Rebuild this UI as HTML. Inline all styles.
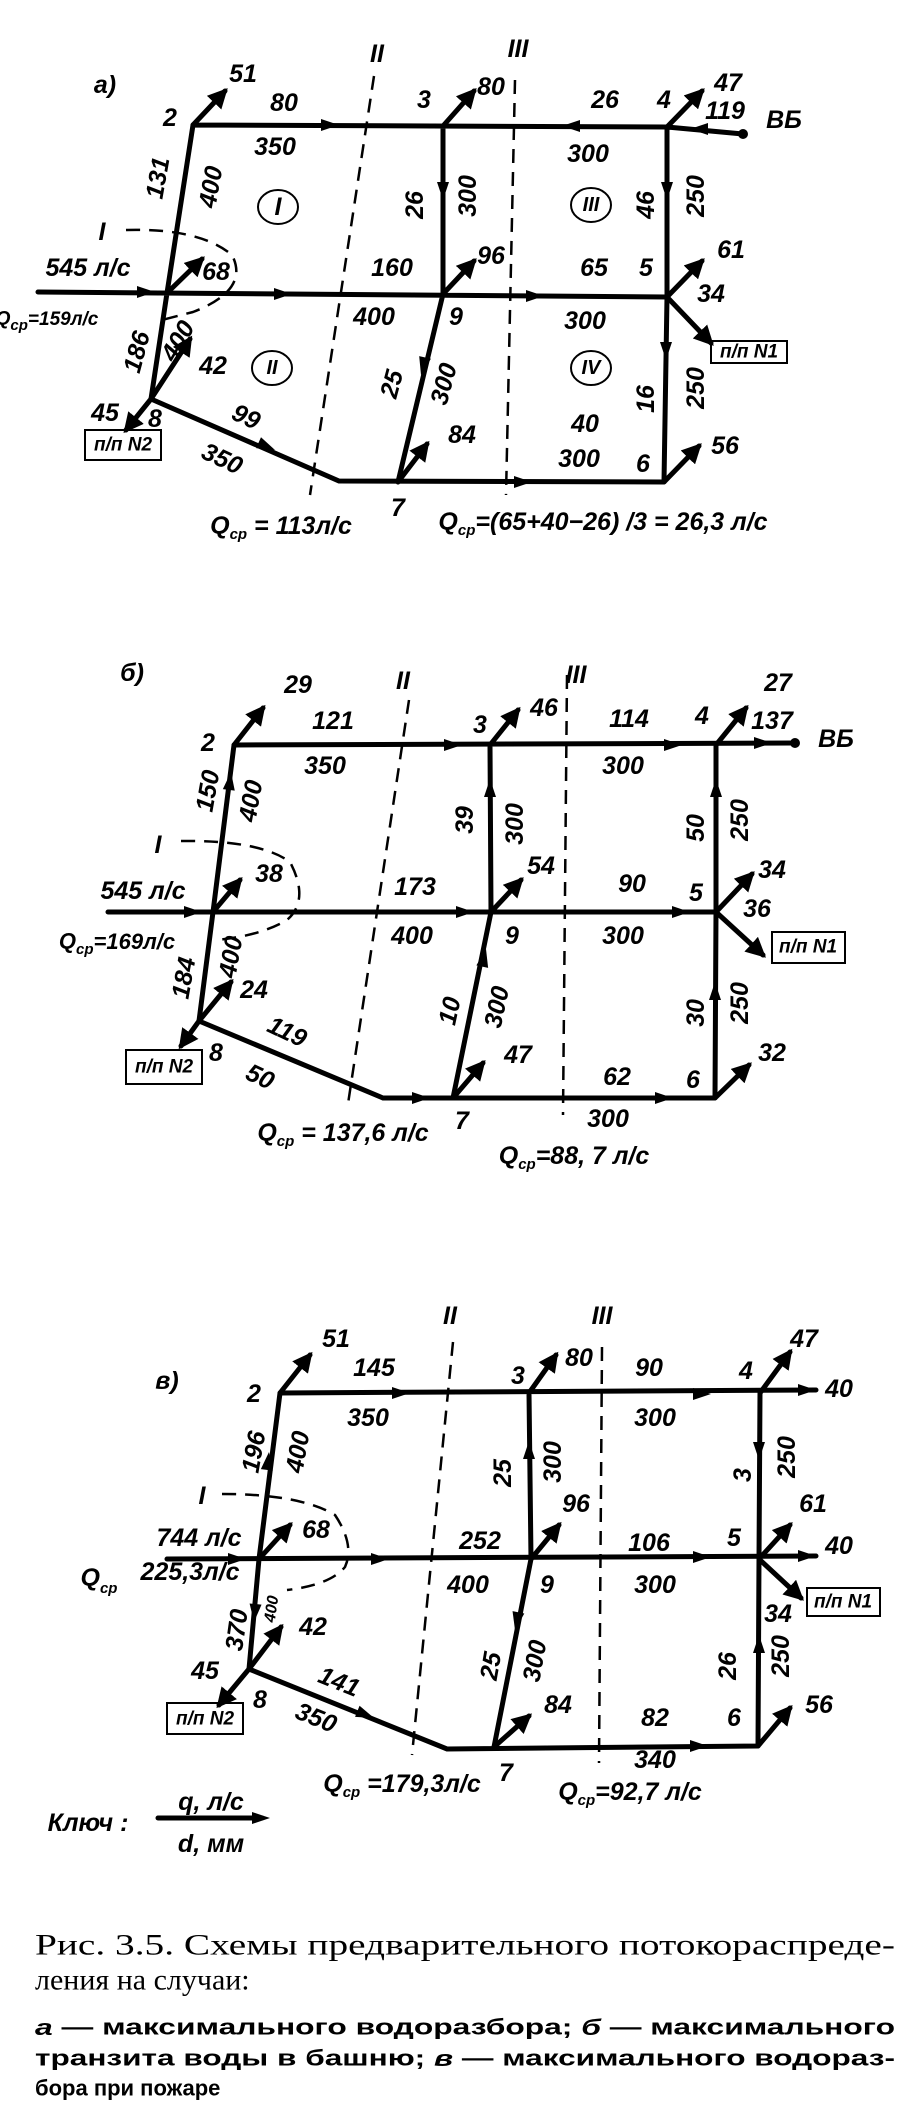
<!DOCTYPE html>
<html><head><meta charset="utf-8"><style>
html,body{margin:0;padding:0;background:#fff;}
svg{display:block}
text{font-family:"Liberation Sans",sans-serif;font-style:italic;font-weight:bold;font-size:25px;fill:#000;text-anchor:middle;dominant-baseline:central}
.p{stroke:#000;stroke-width:5;fill:none;stroke-linecap:round}
.d{stroke:#000;stroke-width:2.5;fill:none;stroke-dasharray:14 9}
.s{font-size:15px}
.cap{font-family:"Liberation Serif",serif;font-style:normal;font-weight:normal;font-size:30px;text-anchor:start}
.cap2{font-family:"Liberation Sans",sans-serif;font-style:normal;font-weight:bold;font-size:22px;text-anchor:start}
</style></head><body>
<svg width="907" height="2120" viewBox="0 0 907 2120" xmlns="http://www.w3.org/2000/svg">
<defs>
<polygon id="ah" points="0,0 -18,-6 -18,6" fill="#000"/>
<marker id="m" viewBox="0 0 10 10" refX="8" refY="5" markerWidth="4" markerHeight="4" orient="auto"><path d="M0,0 L10,5 L0,10z" fill="#000"/></marker>
</defs>

<!-- ===== a) ===== -->
<g>
<text x="105" y="85">a)</text>
<text x="377" y="54">II</text><text x="518" y="49">III</text>
<path class="d" d="M374,76 L310,495"/><path class="d" d="M515,80 L506,495"/>
<path class="d" d="M126,230 Q200,228 232,255 Q250,290 193,312 L158,321"/>
<path class="p" d="M193,125 L667,127 M743,134 L667,127 M193,125 L167,293 L151,399 M38,292 L667,297 M443,126 L443,294 L398,482 M667,127 L667,297 L664,482 M151,399 L339,481 L664,482"/>
<circle cx="743" cy="134" r="5"/>
<g class="p" marker-end="url(#m)">
<line x1="193" y1="125" x2="225" y2="91"/><line x1="443" y1="126" x2="474" y2="91"/><line x1="667" y1="127" x2="702" y2="91"/>
<line x1="167" y1="293" x2="202" y2="259"/><line x1="443" y1="294" x2="474" y2="261"/><line x1="667" y1="297" x2="702" y2="261"/>
<line x1="667" y1="297" x2="711" y2="343"/><line x1="151" y1="399" x2="126" y2="430"/><line x1="151" y1="399" x2="190" y2="339"/>
<line x1="398" y1="482" x2="427" y2="444"/><line x1="664" y1="482" x2="699" y2="446"/>
</g>
<use href="#ah" transform="translate(339,125)"/><use href="#ah" transform="translate(562,126) rotate(180)"/><use href="#ah" transform="translate(690,129) rotate(180)"/>
<use href="#ah" transform="translate(443,200) rotate(90)"/><use href="#ah" transform="translate(667,200) rotate(90)"/>
<use href="#ah" transform="translate(292,294)"/><use href="#ah" transform="translate(544,296)"/><use href="#ah" transform="translate(155,292)"/>
<use href="#ah" transform="translate(666,360) rotate(90)"/><use href="#ah" transform="translate(421,375) rotate(103)"/>
<use href="#ah" transform="translate(275,450) rotate(24)"/><use href="#ah" transform="translate(532,482)"/>
<text x="243" y="74">51</text><text x="170" y="118">2</text><text x="284" y="103">80</text><text x="275" y="147">350</text>
<text x="424" y="100">3</text><text x="491" y="87">80</text><text x="605" y="100">26</text><text x="664" y="100">4</text>
<text x="728" y="83">47</text><text x="725" y="111">119</text><text x="784" y="120">ВБ</text><text x="588" y="154">300</text>
<text transform="translate(158,178) rotate(-80)">131</text><text transform="translate(211,187) rotate(-80)">400</text>
<ellipse cx="278" cy="207" rx="20" ry="17" fill="none" stroke="#000" stroke-width="2"/><text x="278" y="207">I</text>
<text transform="translate(415,205) rotate(-90)">26</text><text transform="translate(468,196) rotate(-90)">300</text>
<ellipse cx="591" cy="205" rx="20" ry="17" fill="none" stroke="#000" stroke-width="2"/><text x="591" y="205" style="font-size:20px">III</text>
<text transform="translate(646,205) rotate(-90)">46</text><text transform="translate(696,196) rotate(-90)">250</text>
<text x="102" y="232">I</text><text x="88" y="268">545 л/с</text><text x="216" y="272">68</text><text x="392" y="268">160</text>
<text x="491" y="256">96</text><text x="594" y="268">65</text><text x="646" y="268">5</text><text x="731" y="250">61</text><text x="711" y="294">34</text>
<rect x="711" y="341" width="76" height="22" fill="none" stroke="#000" stroke-width="2"/><text x="749" y="352" style="font-size:19px">п/п N1</text>
<text x="47" y="319" style="font-size:19px">Q<tspan class="s" dy="6">ср</tspan><tspan dy="-6">=159л/с</tspan></text>
<text x="374" y="317">400</text><text x="456" y="317">9</text><text x="585" y="321">300</text>
<text transform="translate(137,352) rotate(-75)">186</text><text transform="translate(178,341) rotate(-60)">400</text>
<text x="213" y="366">42</text>
<ellipse cx="272" cy="368" rx="20" ry="17" fill="none" stroke="#000" stroke-width="2"/><text x="272" y="368" style="font-size:20px">II</text>
<text transform="translate(392,384) rotate(-75)">25</text><text transform="translate(444,384) rotate(-75)">300</text>
<ellipse cx="591" cy="368" rx="20" ry="17" fill="none" stroke="#000" stroke-width="2"/><text x="591" y="368" style="font-size:20px">IV</text>
<text transform="translate(646,399) rotate(-90)">16</text><text transform="translate(696,388) rotate(-90)">250</text>
<text x="105" y="413">45</text><text x="155" y="419">8</text>
<rect x="85" y="430" width="76" height="30" fill="none" stroke="#000" stroke-width="2"/><text x="123" y="445" style="font-size:19px">п/п N2</text>
<text transform="translate(246,417) rotate(25)">99</text><text transform="translate(222,459) rotate(25)">350</text>
<text x="462" y="435">84</text><text x="585" y="424">40</text><text x="579" y="459">300</text><text x="643" y="464">6</text><text x="725" y="446">56</text>
<text x="398" y="508">7</text>
<text x="281" y="526">Q<tspan class="s" dy="8">ср</tspan><tspan dy="-8"> = 113л/с</tspan></text>
<text x="603" y="522">Q<tspan class="s" dy="8">ср</tspan><tspan dy="-8">=(65+40−26) /3 = 26,3 л/с</tspan></text>
</g>

<!-- ===== б) ===== -->
<g>
<text x="132" y="673">б)</text>
<text x="403" y="681">II</text><text x="576" y="675">III</text>
<path class="d" d="M409,700 L348,1104"/><path class="d" d="M567,675 L563,1115"/>
<path class="d" d="M181,841 Q260,840 290,862 Q310,900 287,920 Q260,936 216,940"/>
<path class="p" d="M234,745 L795,743 M234,745 L213,912 L199,1021 M108,912 L716,912 M490,745 L491,912 L453,1098 M716,745 L716,912 L715,1098 M199,1021 L383,1098 L715,1098"/>
<circle cx="795" cy="743" r="5"/>
<g class="p" marker-end="url(#m)">
<line x1="234" y1="745" x2="263" y2="708"/><line x1="490" y1="745" x2="518" y2="710"/><line x1="716" y1="745" x2="746" y2="708"/>
<line x1="213" y1="912" x2="240" y2="880"/><line x1="491" y1="912" x2="521" y2="880"/><line x1="716" y1="912" x2="752" y2="874"/>
<line x1="716" y1="912" x2="763" y2="955"/><line x1="199" y1="1021" x2="181" y2="1046"/><line x1="199" y1="1021" x2="231" y2="982"/>
<line x1="453" y1="1098" x2="483" y2="1063"/><line x1="715" y1="1098" x2="749" y2="1065"/>
</g>
<use href="#ah" transform="translate(462,745)"/><use href="#ah" transform="translate(682,745)"/><use href="#ah" transform="translate(772,743)"/>
<use href="#ah" transform="translate(202,912)"/><use href="#ah" transform="translate(474,912)"/><use href="#ah" transform="translate(690,912)"/>
<use href="#ah" transform="translate(673,1098)"/><use href="#ah" transform="translate(430,1098)"/>
<use href="#ah" transform="translate(490,779) rotate(-90)"/><use href="#ah" transform="translate(715,982) rotate(-90)"/><use href="#ah" transform="translate(716,779) rotate(-90)"/>
<use href="#ah" transform="translate(486,949) rotate(-78)"/><use href="#ah" transform="translate(231,772) rotate(-83)"/>
<text x="298" y="685">29</text><text x="778" y="683">27</text><text x="208" y="743">2</text><text x="333" y="721">121</text>
<text x="480" y="725">3</text><text x="544" y="708">46</text><text x="629" y="719">114</text><text x="702" y="716">4</text><text x="772" y="721">137</text><text x="836" y="739">ВБ</text>
<text x="325" y="766">350</text><text x="623" y="766">300</text>
<text transform="translate(208,791) rotate(-80)">150</text><text transform="translate(251,801) rotate(-80)">400</text>
<text transform="translate(465,820) rotate(-90)">39</text><text transform="translate(515,824) rotate(-90)">300</text>
<text transform="translate(696,828) rotate(-90)">50</text><text transform="translate(740,820) rotate(-90)">250</text>
<text x="158" y="845">I</text><text x="269" y="874">38</text><text x="541" y="866">54</text><text x="772" y="870">34</text>
<text x="143" y="891">545 л/с</text><text x="415" y="887">173</text><text x="632" y="884">90</text><text x="696" y="893">5</text><text x="757" y="909">36</text>
<text x="117" y="941" style="font-size:22px">Q<tspan class="s" dy="8">ср</tspan><tspan dy="-8">=169л/с</tspan></text>
<text x="412" y="936">400</text><text x="512" y="936">9</text><text x="623" y="936">300</text>
<rect x="772" y="932" width="73" height="31" fill="none" stroke="#000" stroke-width="2"/><text x="808" y="947" style="font-size:19px">п/п N1</text>
<text transform="translate(184,978) rotate(-80)">184</text><text transform="translate(231,957) rotate(-80)">400</text>
<text x="254" y="990">24</text>
<text transform="translate(450,1011) rotate(-78)">10</text><text transform="translate(497,1007) rotate(-78)">300</text>
<text transform="translate(696,1013) rotate(-90)">30</text><text transform="translate(740,1003) rotate(-90)">250</text>
<text transform="translate(287,1032) rotate(25)">119</text><text x="216" y="1053">8</text>
<rect x="126" y="1050" width="76" height="34" fill="none" stroke="#000" stroke-width="2"/><text x="164" y="1067" style="font-size:19px">п/п N2</text>
<text x="518" y="1055">47</text><text x="772" y="1053">32</text><text transform="translate(260,1077) rotate(25)">50</text>
<text x="617" y="1077">62</text><text x="693" y="1080">6</text><text x="462" y="1121">7</text><text x="608" y="1119">300</text>
<text x="343" y="1133">Q<tspan class="s" dy="8">ср</tspan><tspan dy="-8"> = 137,6 л/с</tspan></text>
<text x="574" y="1156">Q<tspan class="s" dy="8">ср</tspan><tspan dy="-8">=88, 7 л/с</tspan></text>
</g>

<!-- ===== в) ===== -->
<g>
<text x="167" y="1381">в)</text>
<text x="450" y="1316">II</text><text x="602" y="1316">III</text>
<path class="d" d="M453,1342 L412,1755"/><path class="d" d="M602,1347 L599,1763"/>
<path class="d" d="M222,1494 Q300,1494 335,1515 Q355,1545 345,1567 Q330,1585 287,1590"/>
<path class="p" d="M280,1393 L816,1390 M280,1393 L259,1559 L249,1669 M167,1559 L816,1556 M529,1393 L531,1559 L494,1747 M760,1393 L759,1559 L758,1746 M249,1669 L447,1749 L758,1746"/>
<g class="p" marker-end="url(#m)">
<line x1="280" y1="1393" x2="310" y2="1355"/><line x1="529" y1="1393" x2="556" y2="1355"/><line x1="760" y1="1393" x2="790" y2="1352"/>
<line x1="259" y1="1559" x2="290" y2="1525"/><line x1="531" y1="1559" x2="559" y2="1525"/><line x1="759" y1="1559" x2="790" y2="1525"/>
<line x1="759" y1="1559" x2="801" y2="1598"/><line x1="249" y1="1669" x2="219" y2="1705"/><line x1="249" y1="1669" x2="281" y2="1627"/>
<line x1="494" y1="1747" x2="529" y2="1716"/><line x1="758" y1="1746" x2="790" y2="1708"/>
</g>
<use href="#ah" transform="translate(816,1390)"/><use href="#ah" transform="translate(816,1556)"/>
<use href="#ah" transform="translate(410,1393)"/><use href="#ah" transform="translate(711,1394)"/>
<use href="#ah" transform="translate(246,1559)"/><use href="#ah" transform="translate(389,1559)"/><use href="#ah" transform="translate(711,1557)"/>
<use href="#ah" transform="translate(529,1441) rotate(-90)"/><use href="#ah" transform="translate(759,1460) rotate(90)"/>
<use href="#ah" transform="translate(515,1630) rotate(101)"/><use href="#ah" transform="translate(759,1635) rotate(-90)"/>
<use href="#ah" transform="translate(374,1718) rotate(22)"/><use href="#ah" transform="translate(708,1746)"/>
<use href="#ah" transform="translate(269,1452) rotate(-83)"/><use href="#ah" transform="translate(254,1622) rotate(95)"/>
<text x="336" y="1339">51</text><text x="374" y="1368">145</text><text x="518" y="1376">3</text><text x="579" y="1358">80</text>
<text x="649" y="1368">90</text><text x="746" y="1371">4</text><text x="804" y="1339">47</text><text x="839" y="1389">40</text>
<text x="254" y="1394">2</text><text x="368" y="1418">350</text><text x="655" y="1418">300</text>
<text transform="translate(254,1452) rotate(-80)">196</text><text transform="translate(298,1452) rotate(-80)">400</text>
<text transform="translate(503,1473) rotate(-90)">25</text><text transform="translate(553,1462) rotate(-90)">300</text>
<text transform="translate(743,1475) rotate(-90)">3</text><text transform="translate(787,1457) rotate(-90)">250</text>
<text x="202" y="1496">I</text><text x="576" y="1504">96</text><text x="813" y="1504">61</text>
<text x="199" y="1538">744 л/с</text><text x="316" y="1530">68</text><text x="480" y="1541">252</text><text x="649" y="1543">106</text>
<text x="734" y="1538">5</text><text x="839" y="1546">40</text>
<text x="99" y="1578">Q<tspan class="s" dy="10">ср</tspan></text><text x="190" y="1572">225,3л/с</text>
<text x="468" y="1585">400</text><text x="547" y="1585">9</text><text x="655" y="1585">300</text>
<rect x="807" y="1588" width="73" height="28" fill="none" stroke="#000" stroke-width="2"/><text x="843" y="1602" style="font-size:19px">п/п N1</text>
<text x="778" y="1614">34</text>
<text transform="translate(237,1630) rotate(-82)">370</text><text transform="translate(272,1609) rotate(-82)" style="font-size:16px">400</text>
<text x="313" y="1627">42</text>
<text transform="translate(491,1666) rotate(-80)">25</text><text transform="translate(535,1661) rotate(-80)">300</text>
<text transform="translate(728,1666) rotate(-90)">26</text><text transform="translate(781,1656) rotate(-90)">250</text>
<text x="205" y="1671">45</text><text x="819" y="1705">56</text><text transform="translate(339,1682) rotate(22)">141</text><text x="260" y="1700">8</text>
<rect x="167" y="1703" width="76" height="31" fill="none" stroke="#000" stroke-width="2"/><text x="205" y="1719" style="font-size:19px">п/п N2</text>
<text transform="translate(316,1718) rotate(22)">350</text><text x="558" y="1705">84</text><text x="655" y="1718">82</text><text x="734" y="1718">6</text>
<text x="655" y="1760">340</text>
<text x="402" y="1784">Q<tspan class="s" dy="8">ср</tspan><tspan dy="-8"> =179,3л/с</tspan></text><text x="506" y="1773">7</text>
<text x="630" y="1792">Q<tspan class="s" dy="8">ср</tspan><tspan dy="-8">=92,7 л/с</tspan></text>
<text x="88" y="1823">Ключ :</text><text x="211" y="1802">q, л/с</text>
<line class="p" x1="158" y1="1818" x2="262" y2="1818" stroke-width="3"/><use href="#ah" transform="translate(270,1818)"/>
<text x="211" y="1844">d, мм</text>
</g>

<!-- caption -->
<text class="cap" x="35" y="1945" textLength="860" lengthAdjust="spacingAndGlyphs">Рис. 3.5. Схемы предварительного потокораспреде-</text>
<text class="cap" x="35" y="1980">ления на случаи:</text>
<text class="cap2" x="35" y="2027" textLength="860" lengthAdjust="spacingAndGlyphs"><tspan font-style="italic">а</tspan> — максимального водоразбора; <tspan font-style="italic">б</tspan> — максимального</text>
<text class="cap2" x="35" y="2058" textLength="860" lengthAdjust="spacingAndGlyphs">транзита воды в башню; <tspan font-style="italic">в</tspan> — максимального водораз-</text>
<text class="cap2" x="35" y="2088">бора при пожаре</text>
</svg>
</body></html>
